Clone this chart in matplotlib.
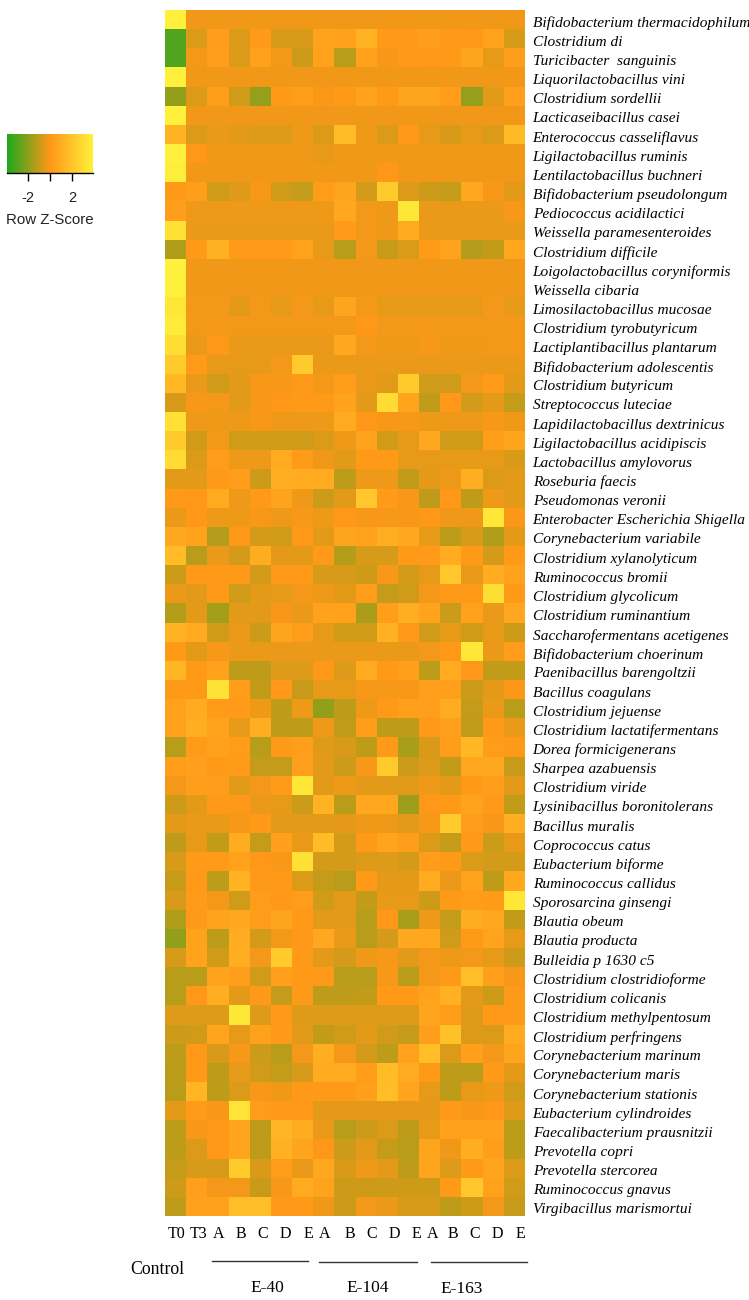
import numpy as np
import matplotlib
matplotlib.use("Agg")
import matplotlib.pyplot as plt
from matplotlib.colors import LinearSegmentedColormap
from matplotlib.transforms import ScaledTranslation

W, H = 749, 1300

species = [
    "Bifidobacterium thermacidophilum", "Clostridium di", "Turicibacter  sanguinis",
    "Liquorilactobacillus vini", "Clostridium sordellii", "Lacticaseibacillus casei",
    "Enterococcus casseliflavus", "Ligilactobacillus ruminis", "Lentilactobacillus buchneri",
    "Bifidobacterium pseudolongum", "Pediococcus acidilactici", "Weissella paramesenteroides",
    "Clostridium difficile", "Loigolactobacillus coryniformis", "Weissella cibaria",
    "Limosilactobacillus mucosae", "Clostridium tyrobutyricum", "Lactiplantibacillus plantarum",
    "Bifidobacterium adolescentis", "Clostridium butyricum", "Streptococcus luteciae",
    "Lapidilactobacillus dextrinicus", "Ligilactobacillus acidipiscis", "Lactobacillus amylovorus",
    "Roseburia faecis", "Pseudomonas veronii", "Enterobacter Escherichia Shigella",
    "Corynebacterium variabile", "Clostridium xylanolyticum", "Ruminococcus bromii",
    "Clostridium glycolicum", "Clostridium ruminantium", "Saccharofermentans acetigenes",
    "Bifidobacterium choerinum", "Paenibacillus barengoltzii", "Bacillus coagulans",
    "Clostridium jejuense", "Clostridium lactatifermentans", "Dorea formicigenerans",
    "Sharpea azabuensis", "Clostridium viride", "Lysinibacillus boronitolerans",
    "Bacillus muralis", "Coprococcus catus", "Eubacterium biforme",
    "Ruminococcus callidus", "Sporosarcina ginsengi", "Blautia obeum",
    "Blautia producta", "Bulleidia p 1630 c5", "Clostridium clostridioforme",
    "Clostridium colicanis", "Clostridium methylpentosum", "Clostridium perfringens",
    "Corynebacterium marinum", "Corynebacterium maris", "Corynebacterium stationis",
    "Eubacterium cylindroides", "Faecalibacterium prausnitzii", "Prevotella copri",
    "Prevotella stercorea", "Ruminococcus gnavus", "Virgibacillus marismortui",
]

# z-scores, one row per species, columns T0 T3 then A-E three times
z_top = [
    [3.9, -.24, -.24, -.24, -.24, -.24, -.24, -.24, -.24, -.24, -.24, -.24, -.24, -.24, -.24, -.24, -.24],
    [-3.0, -.6, .2, -.6, .15, -.7, -.7, .5, .4, 1.2, .05, .05, .3, .1, 0, .4, -.7],
    [-3.0, -.2, .3, -.6, .4, -.2, -.9, .4, -1.2, .4, -.1, .05, 0, .1, .6, -.4, .3],
    [3.9, -.24, -.24, -.24, -.24, -.24, -.24, -.24, -.24, -.24, -.24, -.24, -.24, -.24, -.24, -.24, -.24],
    [-1.9, -.6, .3, -.8, -1.8, .1, .3, -.05, .1, .5, .1, .6, .6, .2, -1.8, -.5, .35],
    [3.9, -.24, -.24, -.24, -.24, -.24, -.24, -.24, -.24, -.24, -.24, -.24, -.24, -.24, -.24, -.24, -.24],
    [1.2, -.6, -.35, -.5, -.55, -.55, -.3, -.6, 1.6, -.3, -.6, .05, -.4, -.7, -.4, -.6, 1.5],
    [3.9, 0, -.25, -.25, -.25, -.25, -.25, -.4, -.25, -.25, -.25, -.25, -.25, -.25, -.25, -.25, -.25],
    [3.8, -.24, -.24, -.24, -.24, -.24, -.24, -.24, -.24, -.24, 0, -.24, -.24, -.24, -.24, -.24, -.24],
    [.1, .3, -.8, -.55, -.15, -.8, -1.0, .2, .6, -.75, 2.2, -.55, -.85, -1.0, .7, -.15, -.5],
    [.3, -.3, -.3, -.3, -.3, -.3, -.3, -.3, .7, -.2, -.25, 3.5, -.35, -.35, -.35, -.35, -.1],
    [3.2, -.35, -.35, -.35, -.35, -.35, -.35, -.35, .15, -.2, -.3, .8, -.35, -.35, -.35, -.35, -.35],
    [-1.4, .05, 1.1, .15, .15, .15, .4, -.4, -1.2, -.2, -.95, -.6, .15, .5, -1.3, -1.05, .65],
    [3.9, -.24, -.24, -.24, -.24, -.24, -.24, -.24, -.24, -.24, -.24, -.24, -.24, -.24, -.24, -.24, -.24],
    [3.9, -.24, -.24, -.24, -.24, -.24, -.24, -.24, -.24, -.24, -.24, -.24, -.24, -.24, -.24, -.24, -.24],
    [3.5, -.2, -.2, -.45, -.2, -.4, -.2, -.4, .6, -.2, -.4, -.4, -.4, -.4, -.4, -.2, -.4],
    [3.7, -.2, -.2, -.2, -.2, -.2, -.2, -.2, -.2, 0, -.2, -.2, -.2, -.2, -.2, -.2, -.2],
    [3.1, -.35, 0, -.35, -.35, -.35, -.35, -.35, .7, -.2, -.3, -.3, -.15, -.3, -.3, -.2, -.2],
    [2.2, .15, -.4, -.4, -.4, -.2, 2.2, -.35, -.35, -.35, -.35, -.35, -.35, -.35, -.35, -.35, -.35],
    [1.4, -.35, -.8, -.5, -.1, -.1, .05, -.2, .2, -.35, -.5, 2.2, -.8, -.8, -.2, .15, -.5],
    [-.7, -.1, -.2, -.5, -.1, 0, .05, .1, .5, -.45, 3.0, .6, -1.05, 0, -.75, -.45, -1.0],
]
z_mid = [
    [3.2, -.3, -.3, -.3, -.1, -.3, -.3, -.3, .85, 0, -.15, -.15, -.3, -.3, -.3, -.1, -.3],
    [2.2, -.8, -.2, -.8, -.8, -.8, -.8, -.6, -.3, .5, -.8, -.4, .7, -.8, -.8, .3, .6],
    [3.0, -.6, .2, -.3, -.3, .8, .15, -.25, -.5, .05, .05, -.4, -.4, -.4, -.4, -.4, -.7],
    [-.5, -.5, .1, .25, -.9, 1.0, .9, .8, -1.15, -.3, -.3, -1.05, -.45, -.3, 1.0, -.6, -.5],
    [.05, 0, .8, -.3, .05, .45, -.3, -.9, -.5, 2.1, .15, -.1, -1.1, 0, -1.1, -.3, -.5],
    [-.35, 0, -.3, -.3, -.1, -.3, -.15, -.3, 0, -.1, -.1, -.1, 0, -.25, -.25, 3.5, -.05],
    [.7, .45, -1.3, 0, -.75, -.8, .1, -.5, .55, .4, 1.0, .7, -.4, -1.15, -.7, -1.35, -.45],
    [1.6, -1.2, -.35, -.75, .9, -.45, -.45, .1, -1.3, -.7, -.7, .05, .15, .9, .05, -.75, .05],
    [-.9, .05, .05, .05, -.75, 0, .05, -.7, -.7, -.85, -.15, -.75, -.4, 2.1, -.35, .9, .4],
    [-.35, -.5, .1, -.8, -.5, -.4, -.2, -.3, -.5, .25, -1.0, -.8, -.2, .05, .05, 3.1, .05],
    [-1.3, -.5, -1.6, -.5, -.5, -.15, -.35, .4, .4, -1.45, .3, 1.0, .5, -.9, .4, -.35, .7],
    [1.2, .85, -.8, -.35, -.9, .6, .25, -.4, -.8, -.8, 1.1, .1, -.8, -.4, -.8, -.4, -.85],
    [.05, -.5, -.15, -.35, -.35, -.35, -.35, -.35, -.35, -.35, -.35, -.35, -.2, 0, 3.5, -.35, .25],
    [1.3, .05, .4, -1.1, -1.1, -.55, -.55, 0, -.55, .8, .05, .35, -1.15, .8, 0, -1.05, -1.05],
    [.1, .05, 3.3, .25, -1.05, 0, -.95, -.4, -.4, -.15, -.15, -.15, .35, .35, -.9, -.45, -.05],
    [.4, .9, .15, .15, -.3, -1.1, -.3, -1.9, -1.1, -.3, .1, .35, .35, .9, -1.0, -.35, -1.2],
    [.4, 1.0, .5, -.4, 1.0, -1.1, -1.1, -.3, -1.05, .25, -1.1, -1.1, .05, .35, -1.05, .05, -.35],
    [-1.25, .15, .4, .2, -1.25, .05, .3, -.55, -.65, -1.15, .05, -1.5, -.65, .25, 1.4, .2, .05],
    [.2, .35, .05, .15, -1.0, -1.0, .35, -.5, -.9, -.1, 2.2, -.9, -.6, -1.05, .7, .7, -.95],
    [-.2, .3, .25, -.5, -.2, .15, 3.5, -.5, -.3, -.5, -.5, -.5, -.3, -.5, .05, .3, -.5],
    [-.85, -.5, .05, 0, -.35, -.4, -.9, 1.2, -1.2, .7, .7, -1.7, 0, .05, .5, .05, -1.05],
]
z_bottom = [
    [-.5, -.35, -.35, -.15, .05, -.5, -.5, -.5, -.45, -.3, -.3, -.5, -.1, 2.2, .25, -.1, 1.0],
    [-1.1, -.4, -1.05, .9, -1.0, .35, -.35, 1.6, -.75, .1, .6, .25, -.6, -1.0, .05, -.9, -.4],
    [-.7, .15, .15, .4, 0, -.15, 3.2, -.75, -.75, -.55, -.55, -.75, .25, .05, -.6, -.75, -.75],
    [-.95, .1, -1.15, 1.2, .05, .05, -.6, -1.0, -1.2, .05, -.45, -.45, .8, -.35, .5, -1.15, .75],
    [-.7, .15, -.2, -.8, .2, 0, .2, -.8, -.5, -1.05, -.4, -.4, -.85, .05, .2, .15, 3.5],
    [-1.4, .05, .45, .7, .2, .6, .1, -.5, -.5, -1.25, 0, -1.5, -.3, -1.0, .95, .7, -1.05],
    [-1.9, .45, -1.15, .9, -.75, -.2, 0, .7, -.35, -1.2, -.75, .7, .75, -.8, .1, .5, -.4],
    [-.7, .5, -.8, 1.0, -.2, 2.2, .1, -.5, -.75, -.3, -.15, -.5, -.2, -.3, -.2, -.4, -.9],
    [-1.2, -1.2, .5, .3, -.8, .35, .1, .1, -1.2, -1.2, -.15, -1.2, -.2, .1, 1.7, .35, -.1],
    [-1.25, 0, 1.0, -.45, .05, -1.0, .1, -1.1, -1.15, -1.05, .05, .1, .5, 1.1, -.5, -.85, .05],
    [-.55, -.55, -.55, 3.5, -.55, .05, -.55, -.55, -.55, -.55, -.55, -.55, .55, .25, -.55, .1, .05],
    [-.9, -.8, .6, -.4, .4, .1, -.5, -1.05, -.8, -.5, -.8, -1.0, .3, 1.8, -.6, -.6, .8],
    [-1.15, 0, -.65, -.15, -.9, -1.2, -.2, 1.0, -.2, -.75, -1.15, .4, 1.7, -.6, .35, -.2, .6],
    [-1.2, .1, -1.1, -.4, -.8, -1.0, -.7, .8, .8, .2, 1.6, .85, .05, -1.15, -1.15, .05, -.45],
    [-1.2, 1.3, -1.1, -.6, -.15, -.3, .1, .1, .1, .35, 1.7, .6, -.4, -1.15, -.4, -.3, -.8],
    [-.5, .15, -.15, 3.4, .2, .05, 0, -.45, -.45, -.45, -.45, -.45, -.45, .05, -.15, 0, -.55],
    [-1.15, -.15, 0, .55, -1.1, 1.3, .95, -.35, -1.2, -.9, -.6, -1.15, -.4, .4, .4, .4, -1.15],
    [-1.15, -.6, 0, .55, -1.1, 1.1, .55, 0, -.9, -.45, -1.0, -1.2, .6, -.25, 1.0, .3, -1.15],
    [-1.0, -.7, -.7, 2.2, -.65, .25, -.35, .7, -.65, -.3, -.45, -1.1, .6, -.55, .1, .55, -.6],
    [-.9, .35, -.2, -.2, -.95, -.15, .8, .5, -.85, -.85, -.85, -.85, -.85, .05, 2.1, .4, -.8],
    [-1.1, .4, .4, 1.7, 1.7, .1, .1, -.25, -.9, -.2, -.35, -.7, -.7, -1.1, -.85, -.2, -.95],
]

col_labels = ["T0", "T3", "A", "B", "C", "D", "E", "A", "B", "C", "D", "E", "A", "B", "C", "D", "E"]
col_label_x = [177, 199, 219, 241, 263, 285, 308, 325, 350, 372, 394, 416, 433, 453, 475, 497, 520]

group_names = ["E-40", "E-104", "E-163"]
group_text_pos = [(267, 1288), (368, 1288), (462, 1289)]
group_lines = [(212, 308, 1261), (319, 417, 1262), (431, 527, 1262)]

legend_ticks = [-2, 0, 2]
legend_ticklabels = ["-2", "", "2"]

plt.rcParams['font.family'] = ['Liberation Serif', 'DejaVu Serif']

cmap = LinearSegmentedColormap.from_list("gy", ["#1fa81f", "#ff9818", "#fff03c"])
z = np.array(z_top + z_mid + z_bottom)


def px_axes(fig, left, top, right, bottom):
    return fig.add_axes([left / W, 1 - bottom / H, (right - left) / W, (bottom - top) / H])


fig = plt.figure(figsize=(W / 100, H / 100), dpi=100)

# heatmap
ax = px_axes(fig, 165, 10, 525, 1216)
ax.imshow(z, cmap=cmap, vmin=-3.9, vmax=3.9, aspect='auto', interpolation='nearest')
ax.set_xticks([])
ax.yaxis.tick_right()
ax.set_yticks(range(len(species)))
ax.set_yticklabels(species, fontsize=11.05, fontstyle='italic', color='black')
ax.tick_params(axis='y', length=0, pad=5.5)
# labels sit a little under the row centres in the original
shift = ScaledTranslation(0, -2 / 100, fig.dpi_scale_trans)
for lab in ax.get_yticklabels():
    lab.set_transform(lab.get_transform() + shift)
for s in ax.spines.values():
    s.set_visible(False)

# colour key
cax = px_axes(fig, 7, 134, 93, 173)
grad = np.linspace(-3.9, 3.9, 256).reshape(1, -1)
cax.imshow(grad, cmap=cmap, aspect='auto', extent=[-3.9, 3.9, 0, 1])
cax.set_yticks([])
cax.set_xticks(legend_ticks)
cax.set_xticklabels(legend_ticklabels, fontsize=10.5, family='Liberation Sans', color='#222222')
cax.tick_params(axis='x', length=6, width=1, pad=7)
for name, s in cax.spines.items():
    s.set_visible(name == 'bottom')
    s.set_linewidth(1)

# free text and group lines in pixel coordinates
over = fig.add_axes([0, 0, 1, 1])
over.set_xlim(0, W)
over.set_ylim(H, 0)
over.axis('off')
over.patch.set_alpha(0)

over.text(50, 220, "Row Z-Score", ha='center', va='center', fontsize=10.8,
          family='Liberation Sans', color='#222222')
for label, x in zip(col_labels, col_label_x):
    over.text(x, 1234, label, ha='center', va='center', fontsize=11.5)
for (x0, x1, y) in group_lines:
    over.plot([x0, x1], [y, y], color='#333333', lw=1)
for name, (x, y) in zip(group_names, group_text_pos):
    over.text(x, y, name, ha='center', va='center', fontsize=12.5)
over.text(157, 1270, "Control", ha='center', va='center', fontsize=12.8)

fig.savefig("out.png", dpi=100)
